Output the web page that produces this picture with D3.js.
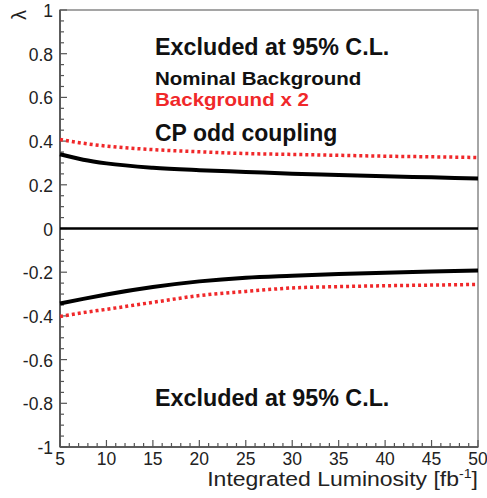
<!DOCTYPE html>
<html><head><meta charset="utf-8">
<script src="https://cdn.jsdelivr.net/npm/d3@7"></script>
<style>body{margin:0;background:#fff}svg{display:block}text{font-family:"Liberation Sans",Arial,sans-serif}</style>
</head><body><svg id="c" width="487" height="498"></svg>
<script>
const lumi = [5, 7.5, 10, 15, 20, 25, 30, 35, 40, 45, 50];
const nomUpper = [0.340, 0.315, 0.298, 0.278, 0.267, 0.259, 0.251, 0.245, 0.239, 0.234, 0.229];
const nomLower = [-0.343, -0.322, -0.302, -0.268, -0.242, -0.225, -0.216, -0.208, -0.202, -0.197, -0.192];
const bkg2Upper = [0.407, 0.390, 0.377, 0.361, 0.351, 0.343, 0.339, 0.335, 0.331, 0.328, 0.325];
const bkg2Lower = [-0.403, -0.385, -0.370, -0.338, -0.307, -0.288, -0.272, -0.266, -0.262, -0.259, -0.256];
const xTicks = [5, 10, 15, 20, 25, 30, 35, 40, 45, 50];
const yTicks = [-1, -0.8, -0.6, -0.4, -0.2, 0, 0.2, 0.4, 0.6, 0.8, 1];
const yTickLabels = ["-1", "-0.8", "-0.6", "-0.4", "-0.2", "0", "0.2", "0.4", "0.6", "0.8", "1"];

const svg = d3.select("#c");
const L = 60, R = 478, T = 10, B = 447;
const x = d3.scaleLinear().domain([5, 50]).range([L, R]);
const y = d3.scaleLinear().domain([-1, 1]).range([B, T]);

// frame
svg.append("rect").attr("x", L).attr("y", T).attr("width", R - L).attr("height", B - T)
  .attr("fill", "none").attr("stroke", "#888").attr("stroke-width", 1.5);
svg.append("line").attr("x1", L).attr("x2", L).attr("y1", T).attr("y2", B).attr("stroke", "#444").attr("stroke-width", 1.5);
svg.append("line").attr("x1", L).attr("x2", R).attr("y1", B).attr("y2", B).attr("stroke", "#444").attr("stroke-width", 1.5);

// ticks
const g = svg.append("g").attr("stroke", "#555").attr("stroke-width", 1.2);
d3.range(5, 50.001, 1).forEach(v => {
  const major = Math.abs(v % 5) < 1e-6;
  g.append("line").attr("x1", x(v)).attr("x2", x(v)).attr("y1", B).attr("y2", B - (major ? 7 : 4));
});
d3.range(-1, 1.0001, 0.05).forEach(v => {
  const major = Math.abs(Math.round(v * 100) % 20) < 1e-6;
  g.append("line").attr("y1", y(v)).attr("y2", y(v)).attr("x1", L).attr("x2", L + (major ? 7 : 4));
});

// tick labels
svg.append("g").selectAll("text").data(xTicks).join("text")
  .attr("x", d => x(d)).attr("y", 465).attr("text-anchor", "middle")
  .attr("font-size", 17.5).attr("fill", "#222").text(d => d);
svg.append("g").selectAll("text").data(yTicks).join("text")
  .attr("x", 53).attr("y", d => y(d) + 7).attr("text-anchor", "end")
  .attr("font-size", 17.5).attr("fill", "#222").text((d, i) => yTickLabels[i]);

// axis titles (horizontally stretched like the reference)
svg.append("g").attr("transform", "translate(478,486) scale(1.18,1)")
  .append("text").attr("x", 0).attr("y", 0).attr("text-anchor", "end")
  .attr("font-size", 19.5).attr("fill", "#222")
  .html('Integrated Luminosity [fb<tspan dy="-8" font-size="12">-1</tspan><tspan dy="8">]</tspan>');
svg.append("text").attr("transform", "translate(26,15) rotate(-90)").attr("text-anchor", "middle")
  .attr("font-size", 20).attr("fill", "#222").text("λ");

// zero line
svg.append("line").attr("x1", L).attr("x2", R).attr("y1", y(0)).attr("y2", y(0))
  .attr("stroke", "#000").attr("stroke-width", 2.5);

const line = d3.line().x((d, i) => x(lumi[i])).y(d => y(d)).curve(d3.curveMonotoneX);
[[nomUpper, "#000", null, 4], [nomLower, "#000", null, 4],
 [bkg2Upper, "#f0282a", "3,3", 3.5], [bkg2Lower, "#f0282a", "3,3", 3.5]].forEach(([vals, col, dash, w]) => {
  svg.append("path").datum(vals).attr("d", line).attr("fill", "none")
    .attr("stroke", col).attr("stroke-width", w).attr("stroke-dasharray", dash);
});

// annotations
const ann = svg.append("g").attr("font-weight", "bold");
ann.append("text").attr("x", 155).attr("y", 55).attr("font-size", 23.3).attr("fill", "#111").text("Excluded at 95% C.L.");
ann.append("g").attr("transform", "translate(155,85) scale(1.14,1)")
  .append("text").attr("font-size", 18).attr("fill", "#111").text("Nominal Background");
ann.append("g").attr("transform", "translate(155,106) scale(1.14,1)")
  .append("text").attr("font-size", 18).attr("fill", "#f0282a").text("Background x 2");
ann.append("text").attr("x", 155).attr("y", 141).attr("font-size", 23).attr("fill", "#111").text("CP odd coupling");
ann.append("text").attr("x", 155).attr("y", 406).attr("font-size", 23.3).attr("fill", "#111").text("Excluded at 95% C.L.");
</script></body></html>
